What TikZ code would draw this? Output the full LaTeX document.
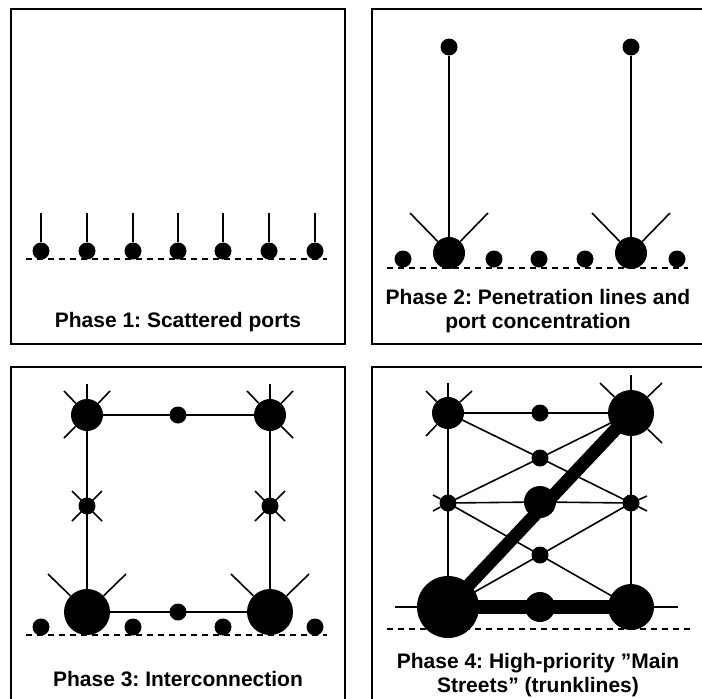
\documentclass[tikz,border=0pt]{standalone}
\usepackage{fontspec}
\setmainfont{Liberation Sans}
\usetikzlibrary{backgrounds}
\frenchspacing
\begin{document}
\begin{tikzpicture}[x=1pt,y=-1pt,
  dotS/.style={circle,fill=black,inner sep=0pt,minimum size=17pt},
  dotM/.style={circle,fill=black,inner sep=0pt,minimum size=32pt},
  dotL/.style={circle,fill=black,inner sep=0pt,minimum size=46pt},
  dotXL/.style={circle,fill=black,inner sep=0pt,minimum size=62pt},
  dotB/.style={circle,fill=black,inner sep=0pt,minimum size=30pt},
  road/.style={line width=1.6pt},
  coast/.style={line width=1.4pt,dash pattern=on 6pt off 5pt},
  panel/.style={line width=2pt},
  trunk/.style={line width=14pt},
  lbl/.style={font=\bfseries\fontsize{21}{24}\selectfont,anchor=base,inner sep=0pt}
]
\useasboundingbox (0,0) rectangle (702,699);
\clip (0,0) rectangle (702,699);

% panels
\draw[panel] (11,9) rectangle (345,344);
\draw[panel] (706,9) -- (372,9) -- (372,344) -- (706,344);
\draw[panel] (11,706) -- (11,367) -- (345,367) -- (345,706);
\draw[panel] (372,706) -- (372,367) -- (706,367);

% ---------- Phase 1 ----------
\draw[coast] (26,259) -- (327,259);
\foreach \i/\x in {1/41,2/87,3/133,4/178,5/223,6/269,7/315}{
  \node[dotS] (a\i) at (\x,251) {};
  \draw[road] (a\i) -- ++(0,-38);
}
\node[lbl] (t1) at (178,327) {Phase 1: Scattered ports};

% ---------- Phase 2 ----------
\draw[coast] (387,268) -- (688,268);
\foreach \i/\x in {1/403,2/494,3/539,4/585,5/677}{
  \node[dotS] (b\i) at (\x,259) {};
}
\node[dotM] (bL) at (449,253) {};
\node[dotM] (bR) at (631,253) {};
\node[dotS] (tL) at (449,47) {};
\node[dotS] (tR) at (631,47) {};
\draw[road] (tL) -- (bL);
\draw[road] (tR) -- (bR);
\draw[road] (bL) -- ++(-39,-40);
\draw[road] (bL) -- ++(39,-40);
\draw[road] (bR) -- ++(-39,-40);
\draw[road] (bR) -- ++(39,-40);
\node[lbl] (t2a) at (538,304) {Phase 2: Penetration lines and};
\node[lbl] (t2b) at (538,328) {port concentration};

% ---------- Phase 3 ----------
\draw[coast] (26,635) -- (327,635);
\foreach \i/\x in {1/41,2/133,3/223,4/315}{
  \node[dotS] (g\i) at (\x,627) {};
}
\node[dotM] (ctl) at (87,415) {};
\node[dotM] (ctr) at (270,415) {};
\node[dotS] (ctm) at (178,415) {};
\node[dotS] (cml) at (87,506) {};
\node[dotS] (cmr) at (270,506) {};
\node[dotL] (cbl) at (87,612) {};
\node[dotL] (cbr) at (270,612) {};
\node[dotS] (cbm) at (178,612) {};
\begin{pgfonlayer}{background}
\draw[road] (ctl.center) -- (ctm.center) -- (ctr.center);
\draw[road] (ctl.center) -- (cml.center) -- (cbl.center);
\draw[road] (ctr.center) -- (cmr.center) -- (cbr.center);
\draw[road] (cbl.center) -- (cbm.center) -- (cbr.center);
\end{pgfonlayer}
\draw[road] (ctl) -- ++(0,-31);
\draw[road] (ctl) -- ++(-23,-24);
\draw[road] (ctl) -- ++(23,-24);
\draw[road] (ctl) -- ++(-23,23);
\draw[road] (ctr) -- ++(0,-31);
\draw[road] (ctr) -- ++(-23,-24);
\draw[road] (ctr) -- ++(23,-24);
\draw[road] (ctr) -- ++(23,23);
\draw[road] (cml) ++(-15,-15) -- ++(30,30);
\draw[road] (cml) ++(-15,15) -- ++(30,-30);
\draw[road] (cmr) ++(-15,-15) -- ++(30,30);
\draw[road] (cmr) ++(-15,15) -- ++(30,-30);
\draw[road] (cbl) -- ++(-39,-38);
\draw[road] (cbl) -- ++(39,-38);
\draw[road] (cbr) -- ++(-39,-38);
\draw[road] (cbr) -- ++(39,-38);
\node[lbl] (t3) at (178,686) {Phase 3: Interconnection};

% ---------- Phase 4 ----------
\draw[coast] (387,629) -- (690,629);
\node[dotM] (dtl) at (448,413) {};
\node[dotS] (dtm) at (540,413) {};
\node[dotL] (dtr) at (631,413) {};
\node[dotS] (dr2) at (540,458) {};
\node[dotS] (dml) at (448,503) {};
\node[dotM] (dmm) at (540,502) {};
\node[dotS] (dmr) at (631,503) {};
\node[dotS] (dr4) at (540,555) {};
\node[dotXL] (dbl) at (448,607) {};
\node[dotB] (dbm) at (540,607) {};
\node[dotL] (dbr) at (631,607) {};
\begin{pgfonlayer}{background}
\draw[road] (dtl.center) -- (dtm.center) -- (dtr.center);
\draw[road] (dtl.center) -- (dr2.center) -- (dmr.center);
\draw[road] (dml.center) -- (dr2.center) -- (dtr.center);
\draw[road] (dml.center) -- (dmm.center) -- (dmr.center);
\draw[road] (dml.center) -- (dr4.center) -- (dbr.center);
\draw[road] (dbl.center) -- (dr4.center) -- (dmr.center);
\draw[road] (dtl.center) -- (dml.center) -- (dbl.center);
\draw[road] (dtr.center) -- (dmr.center) -- (dbr.center);
\draw[road] (dbl.center) -- ++(-53,0);
\draw[road] (dbr.center) -- ++(47,0);
\draw[trunk] (dbl.center) -- (dbm.center) -- (dbr.center);
\draw[line width=13pt] (dbl.center) -- (dtr.center);
\end{pgfonlayer}
\draw[road] (dtl) -- ++(0,-30);
\draw[road] (dtl) -- ++(-22,-22);
\draw[road] (dtl) -- ++(24,-22);
\draw[road] (dtl) -- ++(-22,23);
\draw[road] (dtr) -- ++(0,-38);
\draw[road] (dtr) -- ++(-31,-30);
\draw[road] (dtr) -- ++(31,-30);
\draw[road] (dtr) -- ++(31,30);
\draw[road] (dml) -- ++(-15,-8);
\draw[road] (dml) -- ++(-15,8);
\draw[road] (dmr) -- ++(16,-7);
\draw[road] (dmr) -- ++(16,8);
\node[lbl] (t4a) at (538,668) {Phase 4: High-priority ”Main};
\node[lbl] (t4b) at (538,692) {Streets” (trunklines)};
\end{tikzpicture}
\end{document}
